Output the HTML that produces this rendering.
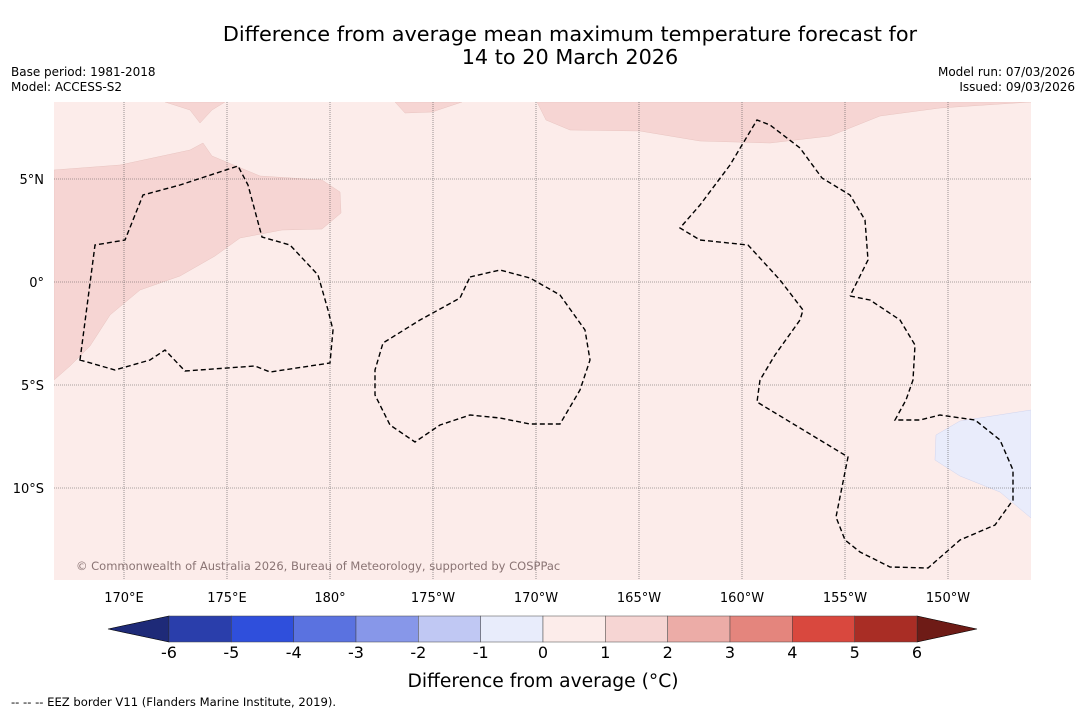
<!DOCTYPE html>
<html><head><meta charset="utf-8"><style>
body{margin:0;background:#fff;font-family:"Liberation Sans","DejaVu Sans",sans-serif;}
svg text{font-family:"DejaVu Sans","Liberation Sans",sans-serif;}
</style></head><body>
<svg id="c" width="1085" height="713" xmlns="http://www.w3.org/2000/svg">
<rect width="1085" height="713" fill="#fff"/>
<text x="570" y="41" font-size="20.8" text-anchor="middle">Difference from average mean maximum temperature forecast for</text>
<text x="570" y="64" font-size="20.8" text-anchor="middle">14 to 20 March 2026</text>
<text x="11" y="76" font-size="12">Base period: 1981-2018</text>
<text x="11" y="91" font-size="12">Model: ACCESS-S2</text>
<text x="1075" y="76" font-size="12" text-anchor="end">Model run: 07/03/2026</text>
<text x="1075" y="91" font-size="12" text-anchor="end">Issued: 09/03/2026</text>
<defs><clipPath id="mc"><rect x="54" y="102" width="977" height="478"/></clipPath></defs>
<g clip-path="url(#mc)">
<rect x="54" y="102" width="977" height="478" fill="#fcecea"/>
<polygon fill="#f6d5d3" stroke="#e8c4c0" stroke-width="0.5" points="54,170 120,165 190,150 203,143 212,156 260,176 322,180 340,192 341,213 322,229 282,230 240,238 215,256 180,276 140,290 110,315 90,346 70,366 54,380"/>
<polygon fill="#f6d5d3" stroke="#e8c4c0" stroke-width="0.5" points="165,102 225,102 212,110 200,123 190,110"/>
<polygon fill="#f6d5d3" stroke="#e8c4c0" stroke-width="0.5" points="395,102 462,102 432,112 405,113"/>
<polygon fill="#f6d5d3" stroke="#e8c4c0" stroke-width="0.5" points="537,102 1031,102 940,108 880,116 830,136 770,143 700,141 640,131 570,130 546,120"/>
<polygon fill="#e9ecfb" stroke="#d0d4ee" stroke-width="0.5" points="1031,410 960,421 936,435 935,460 960,476 1000,492 1031,518"/>
<g id="grid"></g>
<g fill="none" stroke="#000" stroke-width="1.4" stroke-dasharray="5,3">
<polygon points="80,360 95,245 125,240 143,195 180,185 238,166 248,185 262,237 290,245 318,275 328,310 333,330 330,363 270,372 255,366 185,371 165,350 150,360 115,370"/>
<polygon points="470,277 500,270 530,278 560,295 585,330 590,360 580,390 560,424 530,424 500,418 470,415 440,425 415,442 390,425 375,395 375,370 383,343 420,320 460,298"/>
<polyline points="850,296 870,300 900,320 915,345 913,380 906,400 895,420 920,420 940,415 975,420 1000,440 1013,470 1013,500 995,525 960,540 928,568 890,567 860,552 845,540 836,517 848,457 757,402 760,380 775,355 800,320 803,310 780,280 748,245 700,240 680,228 700,205 730,165 757,120 770,125 800,148 822,178 850,195 865,220 868,260 850,296"/>
</g>
<text x="76" y="570" font-size="11.5" fill="#8a7474">© Commonwealth of Australia 2026, Bureau of Meteorology, supported by COSPPac</text>
</g>
<g id="axes"></g>
<g id="cbar"></g>
<text x="543" y="687" font-size="18.7" text-anchor="middle">Difference from average (°C)</text>
<text x="11" y="706" font-size="11.6">-- -- -- EEZ border V11 (Flanders Marine Institute, 2019).</text>
</svg>
<script>
const lonTicks=[170,175,180,185,190,195,200,205,210];
const lonLabels=["170°E","175°E","180°","175°W","170°W","165°W","160°W","155°W","150°W"];
const latTicks=[5,0,-5,-10];
const latLabels=["5°N","0°","5°S","10°S"];
const cbarBounds=[-6,-5,-4,-3,-2,-1,0,1,2,3,4,5,6];
const cbarColors=["#2a3eab","#2f4fdc","#5a72e0","#8797e9","#c0c8f3","#e8ecfb","#fcecea","#f6d5d3","#ecaca7","#e4857d","#d9483e","#a92d25"];
const NS="http://www.w3.org/2000/svg";
const xLon=l=>124+(l-170)*20.6;
const yLat=v=>282-v*20.6;
const xCb=v=>169+(v+6)*(748/12);
function mk(t,a,p){const e=document.createElementNS(NS,t);for(const k in a)e.setAttribute(k,a[k]);p.appendChild(e);return e;}
const grid=document.getElementById('grid'),axes=document.getElementById('axes'),cb=document.getElementById('cbar');
lonTicks.forEach((l,i)=>{
 const g=mk('line',{x1:xLon(l),x2:xLon(l),y1:102,y2:580,stroke:'#555','stroke-width':0.6,'stroke-dasharray':'1,1'},grid);
 
 
 const t=mk('text',{x:xLon(l),y:602,'font-size':13,'text-anchor':'middle'},axes);t.textContent=lonLabels[i];
 
 
});
latTicks.forEach((v,i)=>{
 const g=mk('line',{x1:54,x2:1031,y1:yLat(v),y2:yLat(v),stroke:'#555','stroke-width':0.6,'stroke-dasharray':'1,1'},grid);
 
 
 const t=mk('text',{x:44,y:yLat(v)+5,'font-size':13,'text-anchor':'end'},axes);t.textContent=latLabels[i];
 
 
});
const lt=mk('polygon',{points:`108,629 ${xCb(-6)},616 ${xCb(-6)},642`,fill:'#1e2a78',stroke:'#000','stroke-width':0.6},cb);


const rt=mk('polygon',{points:`977,629 ${xCb(6)},616 ${xCb(6)},642`,fill:'#6e1b16',stroke:'#000','stroke-width':0.6},cb);


cbarColors.forEach((c,i)=>{
 const r=mk('rect',{x:xCb(cbarBounds[i]),y:616,width:xCb(cbarBounds[i+1])-xCb(cbarBounds[i]),height:26,fill:c,stroke:'#444','stroke-width':0.5},cb);
 
 
});
cbarBounds.forEach(v=>{
 const t=mk('text',{x:xCb(v),y:658,'font-size':16,'text-anchor':'middle'},cb);t.textContent=String(v);
 
 
});
</script>
</body></html>
